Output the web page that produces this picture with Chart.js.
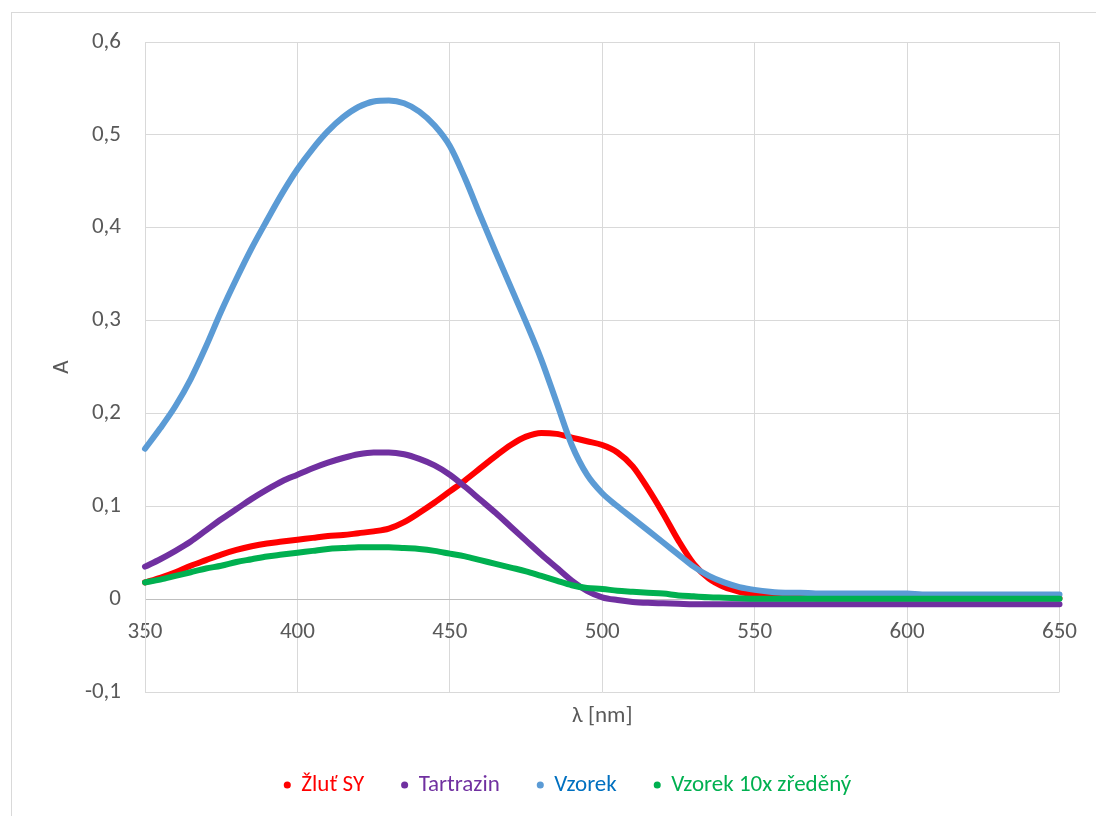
<!DOCTYPE html>
<html>
<head>
<meta charset="utf-8">
<script src="https://cdn.jsdelivr.net/npm/chart.js@4"></script>
<style>
  html, body { margin: 0; padding: 0; background: #fff; }
  canvas { display: block; }
</style>
</head>
<body>
<canvas id="spectra" width="1096" height="816"></canvas>
<script>
// Absorption spectra, wavelength in nm
const wavelengths = [350,355,360,365,370,375,380,385,390,395,400,405,410,415,420,425,430,435,440,445,450,455,460,465,470,475,480,485,490,495,500,505,510,515,520,525,530,535,540,545,550,555,560,565,570,575,580,585,590,595,600,605,610,615,620,625,630,635,640,645,650];

const zlutSY = [0.018,0.023,0.029,0.036,0.042,0.048,0.053,0.057,0.060,0.062,0.064,0.066,0.068,0.069,0.071,0.073,0.076,0.083,0.093,0.104,0.116,0.128,0.141,0.154,0.166,0.175,0.179,0.178,0.174,0.170,0.166,0.158,0.143,0.119,0.092,0.063,0.038,0.022,0.013,0.008,0.005,0.003,0.002,0.002,0.001,0.001,0.001,0.001,0.001,0.001,0.001,0.001,0.001,0.001,0.001,0.001,0.001,0.001,0.001,0.001,0.001];

const tartrazin = [0.035,0.043,0.052,0.062,0.074,0.086,0.097,0.108,0.118,0.127,0.134,0.141,0.147,0.152,0.156,0.158,0.158,0.156,0.151,0.144,0.134,0.121,0.107,0.093,0.078,0.063,0.048,0.034,0.020,0.009,0.002,-0.001,-0.003,-0.004,-0.0045,-0.005,-0.0055,-0.0055,-0.0055,-0.0055,-0.0055,-0.0055,-0.0055,-0.0055,-0.0055,-0.0055,-0.0055,-0.0055,-0.0055,-0.0055,-0.0055,-0.0055,-0.0055,-0.0055,-0.0055,-0.0055,-0.0055,-0.0055,-0.0055,-0.0055,-0.0055];

const vzorek = [0.162,0.184,0.208,0.237,0.272,0.310,0.345,0.378,0.408,0.437,0.463,0.485,0.504,0.519,0.530,0.536,0.537,0.534,0.525,0.510,0.488,0.453,0.413,0.374,0.336,0.298,0.258,0.212,0.166,0.134,0.114,0.100,0.087,0.074,0.061,0.048,0.035,0.025,0.018,0.013,0.010,0.008,0.007,0.007,0.006,0.006,0.006,0.006,0.006,0.006,0.006,0.005,0.005,0.005,0.005,0.005,0.005,0.005,0.005,0.005,0.005];

const vzorekZredeny = [0.018,0.021,0.025,0.029,0.033,0.036,0.040,0.043,0.046,0.048,0.050,0.052,0.054,0.055,0.056,0.056,0.056,0.055,0.054,0.052,0.049,0.046,0.042,0.038,0.034,0.030,0.025,0.020,0.015,0.012,0.011,0.009,0.008,0.007,0.006,0.004,0.003,0.002,0.0015,0.001,0.0005,0.0005,0.0005,0.0005,0.0005,0.0005,0.0005,0.0005,0.0005,0.0005,0.0005,0.0005,0.0005,0.0005,0.0005,0.0005,0.0005,0.0005,0.0005,0.0005,0.0005];

const seriesNames = ['Žluť SY', 'Tartrazin', 'Vzorek', 'Vzorek 10x zředěný'];
const seriesValues = [zlutSY, tartrazin, vzorek, vzorekZredeny];
const lineColors = ['#FF0000', '#7030A0', '#5B9BD5', '#00B050'];
const legendTextColors = ['#FF0000', '#7030A0', '#0070C0', '#00B050'];
const xTitle = 'λ [nm]';
const yTitle = 'A';

const FONT = 'Carlito, Lato, sans-serif';
const FS = 23;
const TEXT = '#595959';
const GRID = '#D9D9D9';

// light frame around the whole chart
const framePlugin = {
  id: 'frame',
  beforeDraw(chart) {
    const ctx = chart.ctx;
    ctx.save();
    ctx.fillStyle = '#fff';
    ctx.fillRect(0, 0, chart.width, chart.height);
    ctx.strokeStyle = GRID;
    ctx.lineWidth = 1;
    ctx.strokeRect(11.5, 12.5, 1200, 1000);
    ctx.restore();
  }
};

const fmt = v => {
  const r = Math.round(v * 10) / 10;
  return r === 0 ? '0' : r.toFixed(1).replace('.', ',');
};

const datasets = seriesNames.map((name, i) => ({
  label: name,
  data: wavelengths.map((w, k) => ({ x: w, y: seriesValues[i][k] })),
  borderColor: lineColors[i],
  backgroundColor: lineColors[i],
  borderWidth: 6,
  borderCapStyle: 'round',
  borderJoinStyle: 'round',
  pointRadius: 0,
  pointHoverRadius: 0,
  cubicInterpolationMode: 'monotone',
  fill: false,
  clip: false,
  order: seriesNames.length - i,
  xAxisID: 'x',
  yAxisID: 'y'
}));

new Chart(document.getElementById('spectra'), {
  type: 'line',
  data: { datasets },
  plugins: [framePlugin],
  options: {
    responsive: false,
    animation: false,
    events: [],
    layout: { padding: { left: 40, right: 0, top: 42, bottom: 9.5 } },
    font: { family: FONT },
    scales: {
      x: {
        type: 'linear',
        position: { y: 0 },
        min: 350, max: 650,
        ticks: { stepSize: 50, padding: 19, color: TEXT, font: { family: FONT, size: FS }, maxRotation: 0 },
        grid: { color: GRID, drawTicks: false },
        border: { color: '#BFBFBF' }
      },
      xt: {
        type: 'linear',
        position: 'bottom',
        min: 350, max: 650,
        ticks: { display: false },
        grid: { display: false, drawTicks: false },
        border: { display: false },
        title: { display: true, text: xTitle, color: TEXT, font: { family: FONT, size: FS }, padding: { top: 0, bottom: 5.7 } },
        afterFit: s => { s.height = 43.5; }
      },
      y: {
        type: 'linear',
        position: 'left',
        min: -0.1, max: 0.6,
        ticks: { stepSize: 0.1, padding: 24, color: TEXT, font: { family: FONT, size: FS }, callback: v => fmt(v) },
        grid: { color: GRID, drawTicks: false },
        border: { color: GRID },
        title: { display: true, text: yTitle, color: TEXT, font: { family: FONT, size: FS }, padding: { top: 8.2, bottom: 0 } },
        afterFit: s => { s.width = 105; }
      },
      yR: {
        type: 'linear',
        position: 'right',
        min: 0, max: 1,
        ticks: { display: false },
        grid: { display: false, drawTicks: false },
        border: { display: false },
        afterFit: s => { s.width = 34; }
      }
    },
    plugins: {
      tooltip: { enabled: false },
      legend: {
        position: 'bottom',
        labels: {
          usePointStyle: true,
          pointStyle: 'circle',
          boxWidth: 5,
          boxHeight: 5,
          padding: 38,
          font: { family: FONT, size: FS },
          sort: (a, b) => a.datasetIndex - b.datasetIndex,
          generateLabels: chart => {
            const items = Chart.defaults.plugins.legend.labels.generateLabels(chart);
            items.forEach(it => {
              it.fontColor = legendTextColors[it.datasetIndex];
              it.fillStyle = lineColors[it.datasetIndex];
              it.strokeStyle = lineColors[it.datasetIndex];
              it.lineWidth = 0;
              it.pointStyle = 'circle';
            });
            return items;
          }
        }
      }
    }
  }
});
</script>
</body>
</html>
